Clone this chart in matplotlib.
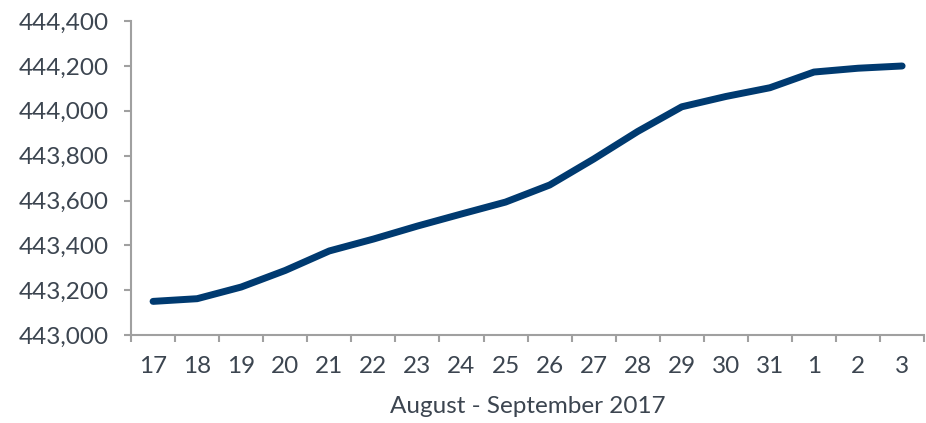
import matplotlib
matplotlib.use("Agg")
import matplotlib.pyplot as plt
from matplotlib.ticker import FuncFormatter, FixedLocator
import numpy as np

days = ["17", "18", "19", "20", "21", "22", "23", "24", "25", "26", "27", "28",
        "29", "30", "31", "1", "2", "3"]
values = [443150, 443162, 443214, 443288, 443375, 443428, 443486, 443540, 443593,
          443669, 443785, 443908, 444018, 444064, 444103, 444173, 444190, 444200]
y_ticks = [443000, 443200, 443400, 443600, 443800, 444000, 444200, 444400]

plt.rcParams['font.family'] = ['Lato', 'DejaVu Sans']
text_color = "#3c4550"
spine_color = "#a0a0a0"
line_color = "#003a70"

fig = plt.figure(figsize=(9.26, 4.23), dpi=100)
ax = fig.add_axes([0.1415, 0.208, 0.8565, 0.742])

x = np.arange(len(days))
ax.plot(x, values, color=line_color, linewidth=5, solid_capstyle='round', solid_joinstyle='round')

ax.set_xlim(-0.5, len(days) - 0.5)
ax.set_ylim(y_ticks[0], y_ticks[-1])
ax.set_yticks(y_ticks)
ax.yaxis.set_major_formatter(FuncFormatter(lambda v, p: f"{int(v):,}"))

ax.xaxis.set_major_locator(FixedLocator(np.arange(-0.5, len(days), 1.0)))
ax.xaxis.set_major_formatter(FuncFormatter(lambda v, p: ""))
ax.xaxis.set_minor_locator(FixedLocator(x))
ax.set_xticklabels(days, minor=True)

for s in ["top", "right"]:
    ax.spines[s].set_visible(False)
for s in ["left", "bottom"]:
    ax.spines[s].set_color(spine_color)
    ax.spines[s].set_linewidth(1.5)

fs = 17.5
ax.tick_params(axis='y', which='major', length=5, width=1.5, color=spine_color,
               labelsize=fs, labelcolor=text_color, pad=11)
ax.tick_params(axis='x', which='major', length=5, width=1.5, color=spine_color, direction='out')
ax.tick_params(axis='x', which='minor', length=0, labelsize=fs, labelcolor=text_color, pad=15)

ax.set_xlabel("August - September 2017", fontsize=fs, color=text_color, labelpad=14)

fig.savefig("out.png", dpi=100)
